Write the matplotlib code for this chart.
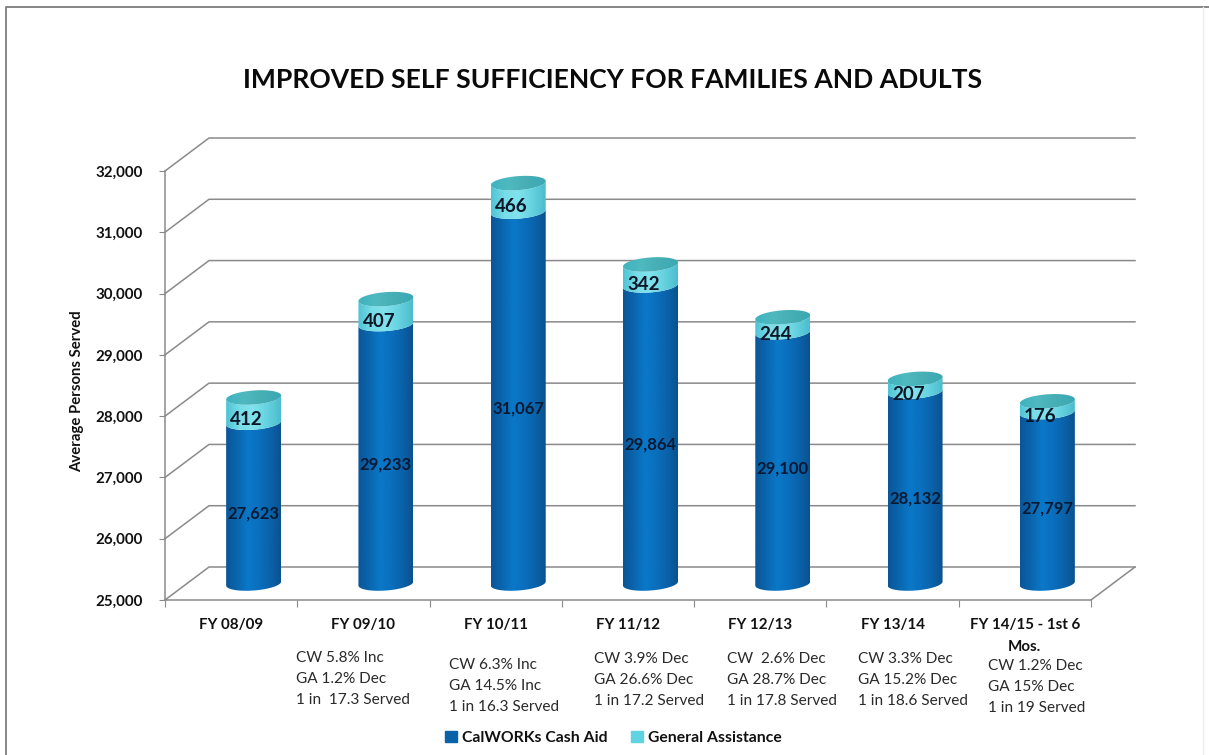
import numpy as np
import matplotlib
matplotlib.use("Agg")
import matplotlib.pyplot as plt
from matplotlib.colors import LinearSegmentedColormap
from matplotlib.patches import Patch, PathPatch
from matplotlib.path import Path

categories = ["FY 08/09", "FY 09/10", "FY 10/11", "FY 11/12", "FY 12/13", "FY 13/14",
              "FY 14/15 - 1st 6\nMos."]
calworks = [27623, 29233, 31067, 29864, 29100, 28132, 27797]
general = [412, 407, 466, 342, 244, 207, 176]
notes = [None,
         ["CW 5.8% Inc", "GA 1.2% Dec", "1 in  17.3 Served"],
         ["CW 6.3% Inc", "GA 14.5% Inc", "1 in 16.3 Served"],
         ["CW 3.9% Dec", "GA 26.6% Dec", "1 in 17.2 Served"],
         ["CW  2.6% Dec", "GA 28.7% Dec", "1 in 17.8 Served"],
         ["CW 3.3% Dec", "GA 15.2% Dec", "1 in 18.6 Served"],
         ["CW 1.2% Dec", "GA 15% Dec", "1 in 19 Served"]]
note_left = [None, 296, 449, 594, 727, 858, 988]
note_top = [None, 658, 665, 659, 659, 659, 666]
yticks = [25000, 26000, 27000, 28000, 29000, 30000, 31000, 32000]

W, H = 1209, 755
FONT = "Lato"
plt.rcParams["font.family"] = [FONT, "DejaVu Sans"]
fig = plt.figure(figsize=(W / 100, H / 100), dpi=100, facecolor="white")

# frame of the picture
fig.add_artist(plt.Line2D([5.5 / W, 5.5 / W, 1], [0, 1 - 6.5 / H, 1 - 6.5 / H], color="#7d7d7d", lw=1.3))
fig.add_artist(plt.Line2D([1203 / W, 1203 / W], [0, 1 - 7 / H], color="#ececec", lw=1.0))

L, R, T, B = 165, 1091, 171, 600
ax = fig.add_axes([L / W, 1 - B / H, (R - L) / W, (B - T) / H], facecolor="none")
ax.set_xlim(-0.5, 6.5)
ax.set_ylim(25000, 32000)
px_x = (R - L) / 7
px_y = (B - T) / 7000

GRID = "#8a8a8a"
dx_back, dy_back = 44 / px_x, 33 / px_y
for v in yticks:
    ax.plot([-0.5, -0.5 + dx_back, 6.5 + dx_back], [v, v + dy_back, v + dy_back],
            color=GRID, lw=1.1, clip_on=False, zorder=1)
ax.plot([6.5, 6.5 + dx_back], [25000, 25000 + dy_back], color=GRID, lw=1.1, clip_on=False, zorder=1)

for s in ("top", "right"):
    ax.spines[s].set_visible(False)
for s in ("left", "bottom"):
    ax.spines[s].set_color(GRID)
    ax.spines[s].set_linewidth(1.1)
ax.set_yticks(yticks)
ax.set_yticklabels([f"{v:,}" for v in yticks], fontsize=10.9, fontweight="bold", color="#111111")
ax.tick_params(axis="y", length=4, color=GRID, pad=12)
ax.set_xticks(np.arange(-0.5, 7, 1))
ax.set_xticklabels([])
ax.tick_params(axis="x", which="major", length=5, color=GRID)
ax.set_xticks(np.arange(7), minor=True)
ax.set_xticklabels(categories, minor=True, fontsize=10.9, fontweight="bold", color="#111111",
                   linespacing=1.7)
ax.tick_params(axis="x", which="minor", length=0, pad=13)

blue_cm = LinearSegmentedColormap.from_list("b", ["#0a5596", "#0a66ae", "#0a78c8", "#0a6fbe", "#0a63aa", "#0a5290"])
cyan_cm = LinearSegmentedColormap.from_list("c", ["#4fc3d4", "#78dde8", "#80e2ec", "#66d2e0", "#4bbccd"])
lid_cm = LinearSegmentedColormap.from_list("t", ["#3fb3c0", "#4fb9bf", "#46aeb4", "#3aa9b5"])
grad = np.linspace(0, 1, 128).reshape(1, -1)

off_x = 22.5 / px_x
base = 25000 + 16.5 / px_y
hw = 27.5 / px_x
eh = 7 / px_y
tilt = 2 / px_y
t = np.linspace(0, np.pi, 60)


def front_arc(cx, cy):
    """Lower edge of the ellipse, from the left side to the right side."""
    return cx - hw * np.cos(t), cy - eh * np.sin(t) + tilt * (-np.cos(t))


def shaded(cx, y0, y1, cmap, z):
    xa, ya = front_arc(cx, y0)
    xb, yb = front_arc(cx, y1)
    verts = np.r_[np.c_[xa, ya], np.c_[xb[::-1], yb[::-1]], [[xa[0], ya[0]]]]
    patch = PathPatch(Path(verts), transform=ax.transData, fc="none", ec="none")
    ax.add_patch(patch)
    im = ax.imshow(grad, cmap=cmap, extent=(cx - hw, cx + hw, y0 - 2 * eh, y1 + 2 * eh),
                   aspect="auto", zorder=z)
    im.set_clip_path(patch)


for i, (cw, ga) in enumerate(zip(calworks, general)):
    cx = i + off_x
    top1 = base + (cw - 25000)
    top2 = top1 + ga
    shaded(cx, base, top1, blue_cm, 3)
    shaded(cx, top1, top2, cyan_cm, 4)
    # lid of the cylinder
    th = np.linspace(0, 2 * np.pi, 120)
    lx = cx + hw * np.cos(th)
    ly = top2 + eh * np.sin(th) + tilt * np.cos(th)
    lid = PathPatch(Path(np.c_[lx, ly]), fc="none", ec="none", transform=ax.transData)
    ax.add_patch(lid)
    im = ax.imshow(grad, cmap=lid_cm, extent=(cx - hw, cx + hw, top2 - 2 * eh, top2 + 2 * eh),
                   aspect="auto", zorder=5)
    im.set_clip_path(lid)
    ax.text(cx, (base + top1) / 2 - 10.5 / px_y, f"{cw:,}", ha="center", va="center", fontsize=12,
            fontweight="bold", color="#081a33", zorder=6)
    ax.text(cx - 7 / px_x, (top1 + top2) / 2 - 9.5 / px_y, f"{ga}", ha="center", va="center", fontsize=13.5,
            fontweight="bold", color="#0b1626", zorder=6)

ax.set_xlim(-0.5, 6.5)
ax.set_ylim(25000, 32000)

fig.text(612.5 / W, 1 - 80 / H, "IMPROVED SELF SUFFICIENCY FOR FAMILIES AND ADULTS", ha="center", va="center",
         fontsize=19.1, fontweight="bold", color="#0a0a0a")
fig.text(77 / W, 1 - 391 / H, "Average Persons Served", rotation=90, ha="center", va="center",
         fontsize=10.7, fontweight="bold", color="#111111")

for lines, x, y in zip(notes, note_left, note_top):
    if lines is None:
        continue
    for k, line in enumerate(lines):
        fig.text(x / W, 1 - (y + k * 21) / H, line, ha="left", va="center", fontsize=11.1, color="#2a2a2a")

fig.legend(handles=[Patch(color="#0a62a8", label="CalWORKs Cash Aid"),
                    Patch(color="#5fd3e2", label="General Assistance")],
           loc="center", bbox_to_anchor=(613.5 / W, 1 - 738 / H), ncol=2, frameon=False,
           prop={"weight": "bold", "size": 11.3, "family": FONT}, handlelength=0.75, handleheight=0.75,
           handletextpad=0.35, columnspacing=1.45, labelcolor="#111111")

fig.savefig("out.png", dpi=100, facecolor="white")
